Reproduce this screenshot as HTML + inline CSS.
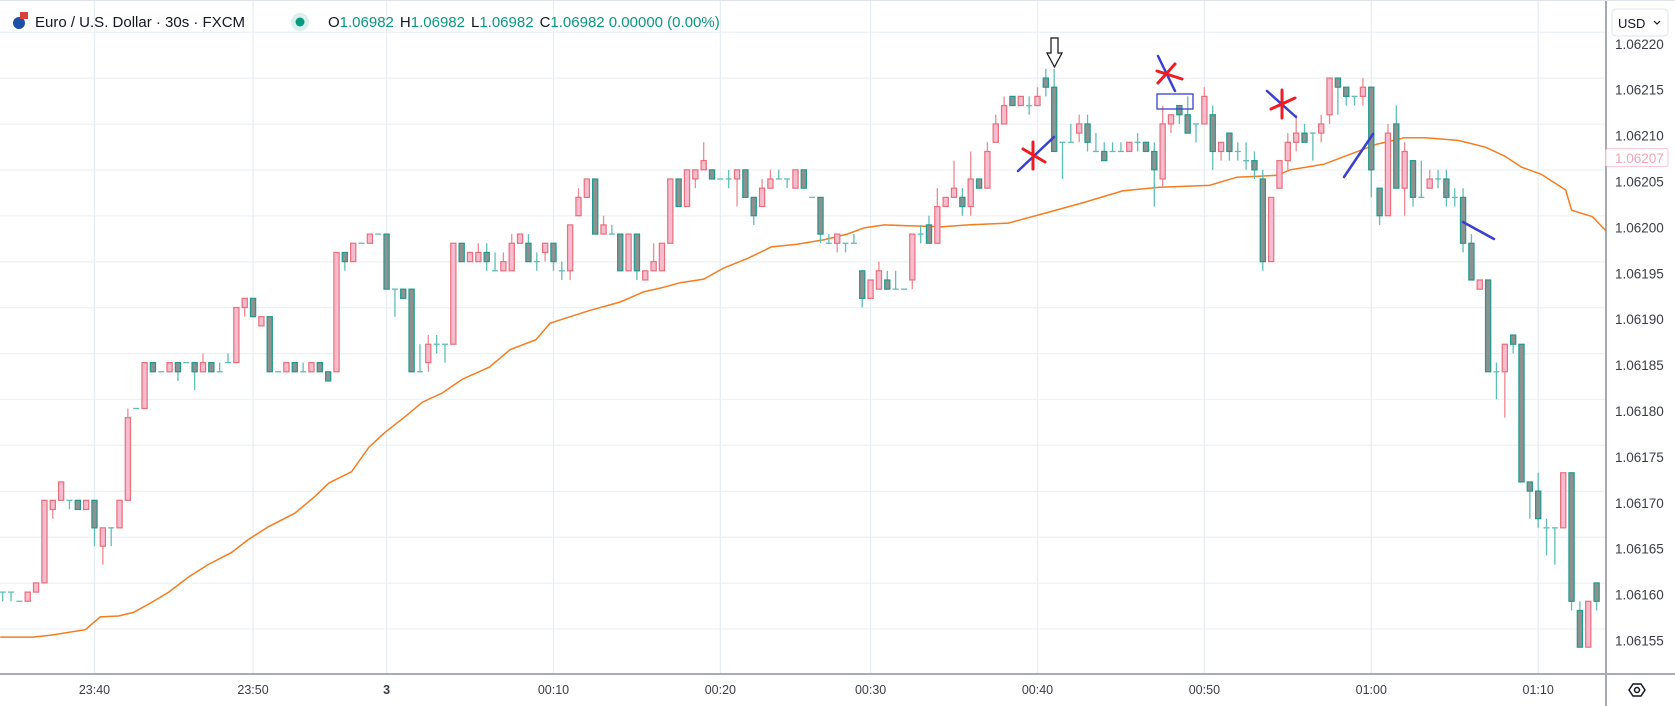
<!DOCTYPE html>
<html><head><meta charset="utf-8"><style>
body{margin:0;background:#fff;width:1675px;height:706px;overflow:hidden;font-family:"Liberation Sans",sans-serif}
#wrap{position:relative;width:1675px;height:706px}
svg{position:absolute;left:0;top:0}
</style></head><body><div id="wrap">
<svg id="c" width="1675" height="706"></svg>
</div>
<script>
const opens=[160,160,159,159,160,161,169,170,170,170,169,170,165,167,167,170,180,180,185,184,184,185,185,185,184,185,184,185,185,191,192,189,190,184,184,185,184,184,185,184,184,197,196,198,198,199,199,193,193,193,
184,185,187,187,187,198,196,196,197,195,195,195,198,198,196,197,198,195,195,201,203,205,199,199,199,195,199,194,195,195,198,205,202,205,206,206,205,205,205,206,203,202,204,205,205,204,206,203,203,198,198,198,198,195,192,193,
194,193,193,194,199,200,198,202,203,203,202,205,204,209,211,214,213,213,213,216,215,209,209,210,211,208,208,208,208,208,209,209,208,205,211,213,212,211,211,212,208,210,208,207,207,
205,196,204,207,209,210,210,210,212,216,215,214,214,215,204,201,211,204,207,203,204,205,205,203,203,198,193,194,184,184,188,187,172,171,167,167,167,173,158,154,161];
const closes=[160,160,159,160,161,170,170,172,170,169,170,167,167,167,170,179,180,185,184,184,185,184,185,184,185,184,184,185,191,192,190,190,184,184,185,184,184,185,184,183,197,196,198,198,199,199,193,193,192,184,
184,187,187,187,198,196,197,197,196,195,196,198,199,196,196,198,196,195,200,203,205,199,200,199,195,199,195,195,196,198,205,202,206,206,207,205,205,205,206,203,201,204,205,205,205,206,204,203,199,198,199,198,198,192,194,195,
193,193,193,199,199,198,202,203,204,202,205,204,208,211,213,213,214,213,214,215,208,209,209,211,209,208,207,208,208,209,209,208,206,211,212,212,210,211,214,208,209,208,208,207,206,
196,203,207,209,210,209,210,211,216,215,214,214,215,206,201,210,204,208,203,203,205,205,203,203,198,194,194,184,184,187,187,172,171,168,167,167,173,159,154,159,159];
const highs=[160,160,159,160,161,170,170,172,170,170,170,170,167,167,170,180,180,185,185,184,185,185,185,185,186,185,185,186,191,192,192,190,190,184,185,185,185,185,185,184,197,197,198,198,199,199,199,193,193,193,
187,188,188,187,198,198,197,198,198,197,197,199,199,199,197,198,198,196,200,204,205,205,201,200,199,199,199,195,198,198,205,205,206,206,209,206,205,206,206,206,203,205,206,206,205,206,206,203,203,199,199,198,199,195,194,196,
195,195,193,199,200,201,204,203,207,204,208,205,209,212,214,214,214,214,215,217,217,209,211,212,212,210,209,209,209,209,210,209,209,213,212,213,214,211,215,213,209,210,209,209,208,
206,203,207,210,212,211,210,212,216,216,215,214,216,215,204,211,213,209,207,207,206,206,206,204,204,199,194,194,185,187,188,187,172,173,168,167,173,173,159,159,161];
const lows=[159,159,159,159,160,161,168,170,169,169,169,165,163,165,167,170,180,180,184,184,184,183,185,182,184,184,184,185,185,190,190,189,184,184,184,184,184,184,184,183,184,195,196,198,198,199,193,190,192,184,
184,184,186,185,187,196,196,196,195,195,195,195,198,196,195,196,195,194,194,201,203,199,199,199,195,195,194,194,195,195,198,202,202,204,206,205,205,204,202,203,200,202,204,205,204,204,204,203,198,198,197,197,198,191,192,193,
193,193,193,193,198,198,198,202,203,201,201,204,204,209,211,213,213,212,213,214,208,205,209,209,208,208,207,208,208,208,208,208,202,204,210,211,210,209,211,206,207,207,207,206,205,
195,196,204,206,208,209,207,209,211,212,213,213,213,203,200,201,204,201,202,203,204,204,202,202,197,194,193,184,181,179,186,172,168,167,164,163,167,158,154,154,158];
const maIdx=[-0.3,3.6,5.7,9.9,11.7,13.9,15.7,17.7,19.9,22.2,24.6,27.4,29.4,31.8,35,37.4,39.1,41.8,43.9,45.8,48.2,50.3,52.7,55.1,58.3,60.8,63.9,65.6,68,70.4,74,76.8,79.2,81.2,84,86.4,89.4,92.1,95.2,98.5,101.2,103.3,105.7,108.5,112.6,115.7,120.5,124.6,129.4,134.2,138.6,144.6,147.9,152.7,154.3,158.3,161.5,164.7,168,170.4,174.4,177.6,180,182,184.4,187.3,188,190.5,192.9];
const maVal=[155.1,155.1,155.3,155.9,157.3,157.4,157.8,158.8,160,161.6,163,164.3,165.7,167.1,168.6,170.4,171.9,173.1,175.8,177.4,179.1,180.7,181.7,183.2,184.5,186.4,187.5,189.3,190,190.7,191.6,192.7,193.2,193.7,194.1,195.3,196.4,197.6,197.9,198.4,199,199.7,200,199.9,199.8,200,200.2,201.2,202.4,203.7,204.1,204.3,205.2,205.4,206,206.6,207.7,208.8,209.5,209.5,209.2,208.5,207.5,206.3,205.5,203.8,201.6,200.9,198.6];
const priceTicks=[155,160,165,170,175,180,185,190,195,200,205,210,215,220];
const timeTickIdx=[11,30,46,66,86,104,124,144,164,184];
const timeTickLabels=["23:40","23:50","3","00:10","00:20","00:30","00:40","00:50","01:00","01:10"];
const lastPrice=207;

const NS="http://www.w3.org/2000/svg";
const svg=document.getElementById('c');
const X=i=>2.7+i*8.345;
const Y=u=>638-(u-155)*9.18;
function mk(t,a,p){const e=document.createElementNS(NS,t);for(const k in a)e.setAttribute(k,a[k]);(p||svg).appendChild(e);return e;}
const defs=mk('defs',{});const cp=mk('clipPath',{id:'pc'},defs);mk('rect',{x:0,y:0,width:1606,height:673},cp);

// grid
const grid=mk('g',{});


priceTicks.forEach(v=>{const l=mk('line',{x1:0,x2:1606,y1:Y(v)-9,y2:Y(v)-9,stroke:'#eef1f5','stroke-width':1.3},grid);
});
timeTickIdx.forEach(i=>{const l=mk('line',{x1:X(i),x2:X(i),y1:0,y2:673,stroke:'#e9eef3','stroke-width':1.3},grid);
});

const plot=mk('g',{'clip-path':'url(#pc)'});


// MA line
let d='';maIdx.forEach((i,k)=>{d+=(k?'L':'M')+X(i).toFixed(1)+' '+Y(maVal[k]).toFixed(1);});
const ma=mk('path',{d:d,fill:'none',stroke:'#f57c1f','stroke-width':1.5},plot);


// candles
opens.forEach((o,i)=>{const c=closes[i],h=highs[i],l=lows[i];const x=X(i);
 const up=c>o,flat=c===o;const col=up?'#ef7a84':'#26a69a';
 const g=mk('g',{},plot);
 
 
 mk('line',{x1:x,x2:x,y1:Y(h),y2:Y(l),stroke:up?'#ef8a92':'#5fbfb5','stroke-width':1.3},g);
 if(flat){mk('line',{x1:x-3,x2:x+3,y1:Y(o),y2:Y(o),stroke:'#5fbfb5','stroke-width':1.3},g);}
 else{const t=Y(Math.max(o,c)),b=Y(Math.min(o,c));
  mk('rect',{x:x-2.6,y:t,width:5.2,height:Math.max(b-t,1),fill:up?'#f8bbcf':'#8f9191',stroke:up?'#e8707b':'#1f9a8c','stroke-width':1.2},g);}
});
// annotations
const an=mk('g',{fill:'none','stroke-linecap':'round'});


const arr=mk('path',{d:'M1051 38 H1058 V53 H1062 L1054.5 67 L1047 53 H1051 Z',fill:'#fff',stroke:'#111','stroke-width':1.2},an);

const B='#3a3fd0',R='#ee1c25';
[[1018,171,1054,137,B],[1033,142,1033,169,R],[1023,149,1045,162,R],
 [1158,56,1175,91,B],[1157,71,1182,79,R],[1158,83,1175,64,R],
 [1267,91,1296,117,B],[1282,90,1282,118,R],[1271,109,1295,98,R],
 [1344,177,1373,134,B],[1463,222,1494,239,B]].forEach(s=>{
 const l=mk('line',{x1:s[0],y1:s[1],x2:s[2],y2:s[3],stroke:s[4],'stroke-width':s[4]===B?2.5:3},an);
 });
const rb=mk('rect',{x:1157,y:94,width:36,height:15,stroke:'#3a3fd0','stroke-width':1.3,fill:'none'},an);


// axes
const ax=mk('g',{});


mk('rect',{x:1607,y:0,width:68,height:706,fill:'#fff'},ax);
mk('rect',{x:0,y:674,width:1675,height:32,fill:'#fff'},ax);
mk('line',{x1:1606,x2:1606,y1:0,y2:706,stroke:'#8a8d96','stroke-width':1.5},ax);
mk('line',{x1:0,x2:1675,y1:674,y2:674,stroke:'#a8abb3','stroke-width':2},ax);
priceTicks.forEach(v=>{const t=mk('text',{x:1615,y:Y(v)+7.5,'font-size':13.5,fill:'#3a3d45','font-family':'Liberation Sans, sans-serif'},ax);
 t.textContent='1.06'+String(v);});
timeTickIdx.forEach((i,k)=>{const t=mk('text',{x:X(i),y:694,'font-size':12.5,fill:'#3a3d45','text-anchor':'middle','font-family':'Liberation Sans, sans-serif','font-weight':timeTickLabels[k]==='3'?'bold':'normal'},ax);
 t.textContent=timeTickLabels[k];});
// last price label
const lp=mk('g',{});


mk('rect',{x:1606,y:Y(lastPrice)-12,width:62,height:18,fill:'#fff',stroke:'#f9c4d2','stroke-width':1,rx:2},lp);
const lt=mk('text',{x:1615,y:Y(lastPrice)+2.5,'font-size':13.5,fill:'#f4a3b8','font-family':'Liberation Sans, sans-serif'},lp);lt.textContent='1.06207';
// USD
const ub=mk('g',{});


mk('rect',{x:1612,y:9,width:56,height:27,rx:4,fill:'#fff',stroke:'#e0e3eb'},ub);
const ut=mk('text',{x:1618,y:28,'font-size':13,fill:'#131722','font-family':'Liberation Sans, sans-serif'},ub);ut.textContent='USD';
mk('path',{d:'M1654 21 l3 3 l3 -3',stroke:'#131722',fill:'none','stroke-width':1.2},ub);
// settings icon
const gi=mk('g',{});


mk('path',{d:'M1629 690 l4 -6 h8 l4 6 l-4 6 h-8 z',fill:'none',stroke:'#131722','stroke-width':1.5},gi);
mk('circle',{cx:1637,cy:690,r:2.5,fill:'none',stroke:'#131722','stroke-width':1.5},gi);
// header
const hd=mk('g',{'font-family':'Liberation Sans, sans-serif','font-size':15});


mk('circle',{cx:19,cy:23,r:6,fill:'#1c4fa8'},hd);
mk('rect',{x:20,y:12,width:8,height:7,fill:'#d8413c'},hd);
const tt=mk('text',{x:35,y:27,fill:'#131722'},hd);tt.textContent='Euro / U.S. Dollar · 30s · FXCM';

mk('circle',{cx:300,cy:22,r:9,fill:'#d9f0ec'},hd);mk('circle',{cx:300,cy:22,r:4.5,fill:'#089981'},hd);
const ohlc=mk('text',{x:328,y:27,fill:'#089981'},hd);

[['O','1.06982'],['H','1.06982'],['L','1.06982'],['C','1.06982 0.00000 (0.00%)']].forEach((p,k)=>{
 const a=mk('tspan',{fill:'#131722',dx:k?6:0},ohlc);a.textContent=p[0];const b=mk('tspan',{fill:'#089981'},ohlc);b.textContent=p[1];});
mk('line',{x1:0,x2:1675,y1:0.5,y2:0.5,stroke:'#e0e3eb'},hd);
</script></body></html>
